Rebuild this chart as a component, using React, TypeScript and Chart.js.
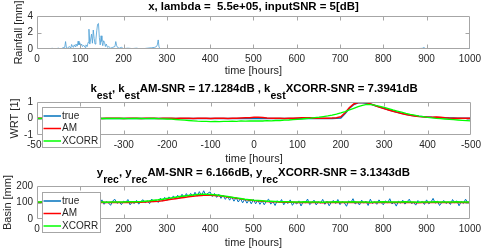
import React, { useEffect, useRef } from 'react';
import { Chart, registerables } from 'chart.js';
Chart.register(...registerables);

const FONT = '"Liberation Sans", Arial, Helvetica, sans-serif';
const TEXT = '#262626';
const AXIS = '#a6a6a6';
const C_TRUE = '#0072BD';
const C_AM = '#FF0000';
const C_XCORR = '#00FF00';

// ---------- Panel 1: rainfall ----------
const RAIN_HOURS = [0, 30, 35, 38, 45, 50, 55, 60, 64, 66, 68, 70, 75, 78, 80, 82, 84, 86, 88, 90, 93, 95, 97, 99, 101, 103, 105, 108, 111, 113, 116, 118, 120, 122, 124, 126, 128, 130, 132, 134, 136, 138, 140, 142, 144, 146, 148, 150, 152, 154, 156, 158, 160, 163, 166, 170, 175, 180, 182, 184, 186, 190, 195, 200, 210, 220, 230, 240, 255, 265, 272, 276, 278, 280, 282, 285, 300, 330, 420, 500, 600, 700, 800, 860, 870, 880, 890, 894, 897, 905, 920, 940, 960, 980, 1000];
const RAIN_MM = [0, 0, 0.1, 0, 0.05, 0.1, 0, 0.15, 0.2, 0.9, 0.15, 0.1, 0.3, 0.1, 0.55, 0.3, 0.2, 0.5, 0.3, 0.6, 0.35, 0.95, 0.5, 0.75, 0.4, 0.6, 0.3, 0.45, 0.2, 0.5, 0.3, 0.8, 2.4, 0.6, 1.2, 1.8, 0.7, 2.3, 1.3, 0.6, 1.1, 2.2, 3.0, 3.1, 1.4, 0.5, 1.6, 0.9, 0.4, 1.0, 0.8, 0.3, 0.6, 0.2, 0.3, 0.1, 0.2, 0.3, 0.9, 0.4, 0.2, 0.1, 0.2, 0.05, 0.1, 0.05, 0.1, 0, 0.1, 0.15, 0.2, 0.3, 0.5, 1.1, 0.2, 0.05, 0, 0.03, 0, 0, 0, 0, 0, 0.01, 0.03, 0.05, 0.08, 0.18, 0.05, 0.03, 0.06, 0.03, 0.05, 0.03, 0.06];

// ---------- Panel 2: WRT (lag axis -500..500, step 10) ----------
const MID_LAG_START = -500;
const MID_LAG_STEP = 10;
const MID_TICK_LABELS = ['-500', '-400', '-300', '-200', '-100', '0', '100', '200', '300', '400', '-500'];
const MID_TRUE = [
  0, 0, 0, 0, 0, 0, 0, 0, 0, 0,
  0, 0, 0, 0, 0, 0, 0, 0, 0, 0,
  0, 0, 0, 0, 0, 0, 0, 0, 0, 0,
  0, 0, 0, 0, 0, 0, 0, 0, 0, 0,
  0, 0, 0, 0, 0, 0, 0, 0, 0, 0,
  0, 0, 0, 0, 0, 0, 0, 0, 0, 0,
  0, 0, 0, 0, 0, 0, 0, 0, 0, 0.01,
  0.03, 0.3, 0.62, 0.85, 0.95, 0.96, 0.93, 0.86, 0.77, 0.69,
  0.61, 0.53, 0.46, 0.38, 0.31, 0.25, 0.2, 0.16, 0.13, 0.11,
  0.09, 0.07, 0.06, 0.05, 0.04, 0.03, 0.03, 0.02, 0.02, 0.01,
  0.01,
];
const MID_AM = [
  0.01, 0.02, 0.01, 0, 0.01, 0.02, 0.01, 0, 0.01, 0.02,
  0.01, 0, 0.01, 0.02, 0.01, 0, 0.01, 0.01, 0.02, 0.01,
  0, 0.01, 0.02, 0.01, 0, 0.01, 0.02, 0.01, 0, 0.01,
  0.02, 0.01, 0, 0.01, 0.02, 0.01, 0, 0.01, 0.02, 0.01,
  0, 0.01, 0.02, 0.01, 0, 0.01, 0.02, 0.03, 0.04, 0.05,
  0.07, 0.08, 0.06, 0.03, 0.01, 0.02, 0.01, 0, 0.01, 0.02,
  0.03, 0.04, 0.05, 0.04, 0.02, 0.01, 0.01, 0.02, 0.03, 0.05,
  0.1, 0.35, 0.66, 0.88, 0.97, 0.99, 0.95, 0.87, 0.77, 0.68,
  0.6, 0.52, 0.44, 0.37, 0.3, 0.24, 0.19, 0.15, 0.12, 0.1,
  0.08, 0.07, 0.09, 0.08, 0.05, 0.03, 0.02, 0.02, 0.01, 0.01,
  0.01,
];
const MID_XCORR = [
  0, 0.01, 0, -0.01, 0, 0.01, 0, 0, -0.01, 0,
  0, 0.01, 0, 0, -0.01, 0, 0.01, 0, 0, 0,
  0, -0.01, 0, 0.01, 0, -0.01, 0, 0, -0.01, -0.02,
  -0.03, -0.04, -0.06, -0.08, -0.1, -0.12, -0.14, -0.16, -0.17, -0.18,
  -0.19, -0.18, -0.19, -0.17, -0.18, -0.16, -0.17, -0.15, -0.16, -0.15,
  -0.15, -0.14, -0.15, -0.13, -0.14, -0.12, -0.12, -0.1, -0.09, -0.07,
  -0.05, -0.03, 0, 0.02, 0.05, 0.08, 0.12, 0.16, 0.21, 0.27,
  0.34, 0.42, 0.52, 0.62, 0.72, 0.8, 0.85, 0.84, 0.8, 0.74,
  0.67, 0.6, 0.52, 0.45, 0.38, 0.31, 0.25, 0.2, 0.15, 0.11,
  0.07, 0.04, 0.01, -0.01, -0.03, -0.05, -0.07, -0.09, -0.11, -0.13,
  -0.15,
];

// ---------- Panel 3: basin ----------
const BASIN_TRUE_STEP = 5;
const BASIN_TRUE = [
  112, 94, 106, 85, 101, 116, 90, 104, 97, 120,
  88, 103, 114, 92, 100, 82, 110, 96, 118, 102,
  86, 108, 98, 122, 91, 102, 78, 112, 100, 94,
  116, 89, 106, 98, 83, 110, 119, 95, 104, 87,
  108, 100, 118, 86, 102, 94, 113, 90, 106, 117,
  98, 110, 93, 121, 104, 114, 100, 126, 108, 131,
  112, 134, 118, 140, 121, 144, 125, 150, 128, 154,
  133, 155, 136, 162, 138, 166, 141, 171, 144, 157,
  164, 136, 155, 131, 150, 125, 143, 119, 139, 114,
  133, 108, 130, 103, 124, 98, 121, 96, 117, 92,
  118, 92, 114, 89, 110, 86, 108, 120, 90, 106,
  82, 111, 97, 118, 86, 104, 94, 116, 83, 102,
  91, 110, 79, 106, 97, 121, 87, 100, 114, 85,
  104, 96, 119, 89, 108, 80, 102, 112, 94, 118,
  87, 106, 98, 77, 110, 100, 123, 91, 102, 85,
  114, 96, 108, 82, 120, 94, 104, 89, 116, 100,
  86, 110, 98, 123, 91, 102, 78, 108, 96, 114,
  90, 104, 120, 94, 100, 84, 112, 98, 106, 88,
  116, 92, 102, 125, 96, 108, 82, 100, 112, 94,
  104, 88, 118, 98, 110, 80, 106, 94, 120, 100,
  96,
];
const BASIN_REC_STEP = 10;
const BASIN_AM = [
  100, 101, 100, 99, 100, 101, 100, 100, 99, 100,
  101, 100, 100, 99, 100, 101, 100, 100, 101, 100,
  100, 101, 100, 101, 102, 103, 104, 106, 108, 111,
  115, 119, 123, 127, 131, 135, 138, 141, 143, 145,
  144, 143, 141, 138, 134, 130, 126, 122, 118, 115,
  112, 110, 108, 106, 105, 104, 103, 102, 101, 101,
  100, 100, 101, 100, 100, 100, 99, 100, 100, 101,
  100, 100, 100, 101, 100, 100, 100, 99, 100, 100,
  101, 100, 100, 100, 100, 101, 100, 100, 99, 100,
  100, 100, 101, 100, 100, 100, 100, 101, 100, 100,
  100,
];
const BASIN_XCORR = [
  103, 103, 102, 103, 103, 102, 103, 103, 102, 103,
  103, 103, 102, 103, 103, 103, 102, 103, 103, 103,
  103, 104, 104, 105, 106, 108, 110, 113, 116, 120,
  124, 128, 132, 136, 140, 143, 146, 148, 150, 150,
  149, 147, 144, 140, 136, 132, 128, 124, 120, 117,
  114, 112, 110, 108, 107, 106, 105, 104, 104, 103,
  103, 103, 104, 103, 103, 103, 102, 103, 103, 104,
  103, 103, 103, 104, 103, 103, 103, 102, 103, 103,
  104, 103, 103, 103, 103, 104, 103, 103, 102, 103,
  103, 103, 104, 103, 103, 103, 103, 104, 103, 103,
  103,
];

const LEGEND_LABELS = ['true', 'AM', 'XCORR'];
const LEGEND_COLORS = [C_TRUE, C_AM, C_XCORR];

type Seg = { t: string; sub?: boolean };

const toXY = (xs: number[], ys: number[]) => ys.map((y, i) => ({ x: xs[i], y }));
const stepXY = (start: number, step: number, ys: number[]) => ys.map((y, i) => ({ x: start + i * step, y }));

type PanelCfg = {
  top: number;
  height: number;
  plotTop: number;
  plotBottom: number;
  xMin: number; xMax: number; xStep: number;
  yMin: number; yMax: number; yStep: number;
  xTickLabels?: string[];
  datasets: any[];
  title: Seg[];
  titleBase: number;
  xlabel: string;
  xlabelBase: number;
  ylabel: string;
  ylabelBase: number;
  legendTop?: number;
};

function Panel({ cfg }: { cfg: PanelCfg }) {
  const ref = useRef<HTMLCanvasElement>(null);
  useEffect(() => {
    if (!ref.current) return;
    const deco = {
      id: 'deco',
      afterDatasetsDraw(chart: any) {
        const { ctx, chartArea: a, scales } = chart;
        const L = Math.round(a.left) + 0.5;
        const T = Math.round(a.top) + 0.5;
        const R = Math.round(a.right) - 0.5;
        const B = Math.round(a.bottom) - 0.5;
        ctx.save();
        ctx.strokeStyle = AXIS;
        ctx.lineWidth = 1;
        ctx.beginPath();
        ctx.rect(L, T, R - L, B - T);
        const tl = 4;
        scales.x.ticks.forEach((t: any, i: number) => {
          if (i === 0 || i === scales.x.ticks.length - 1) return;
          const px = Math.round(scales.x.getPixelForValue(t.value)) + 0.5;
          ctx.moveTo(px, B); ctx.lineTo(px, B - tl);
          ctx.moveTo(px, T); ctx.lineTo(px, T + tl);
        });
        scales.y.ticks.forEach((t: any, i: number) => {
          if (i === 0 || i === scales.y.ticks.length - 1) return;
          const py = Math.round(scales.y.getPixelForValue(t.value)) + 0.5;
          ctx.moveTo(L, py); ctx.lineTo(L + tl, py);
          ctx.moveTo(R, py); ctx.lineTo(R - tl, py);
        });
        ctx.stroke();
        ctx.restore();
      },
      afterDraw(chart: any) {
        const { ctx, chartArea: a } = chart;
        const cx = (a.left + a.right) / 2;
        ctx.save();
        ctx.fillStyle = '#000';
        // title with subscripts
        const mainFont = `bold 11.4px ${FONT}`;
        const subFont = `bold 10.5px ${FONT}`;
        let total = 0;
        cfg.title.forEach((s) => {
          ctx.font = s.sub ? subFont : mainFont;
          total += ctx.measureText(s.t).width;
        });
        let x = cx - total / 2;
        ctx.textAlign = 'left';
        ctx.textBaseline = 'alphabetic';
        cfg.title.forEach((s) => {
          ctx.font = s.sub ? subFont : mainFont;
          ctx.fillText(s.t, x, s.sub ? cfg.titleBase + 6.5 : cfg.titleBase);
          x += ctx.measureText(s.t).width;
        });
        // axis labels
        ctx.fillStyle = TEXT;
        ctx.font = `11px ${FONT}`;
        ctx.textAlign = 'center';
        ctx.fillText(cfg.xlabel, cx, cfg.xlabelBase);
        ctx.save();
        ctx.translate(cfg.ylabelBase, (a.top + a.bottom) / 2);
        ctx.rotate(-Math.PI / 2);
        ctx.fillText(cfg.ylabel, 0, 0);
        ctx.restore();
        // legend
        if (cfg.legendTop !== undefined) {
          const lx = 42.5;
          const ly = cfg.legendTop + 0.5;
          ctx.fillStyle = '#fff';
          ctx.strokeStyle = AXIS;
          ctx.lineWidth = 1;
          ctx.fillRect(lx, ly, 58, 40);
          ctx.strokeRect(lx, ly, 58, 40);
          ctx.font = `10px ${FONT}`;
          ctx.textAlign = 'left';
          ctx.textBaseline = 'middle';
          LEGEND_LABELS.forEach((lab, i) => {
            const yy = cfg.legendTop! + 9 + i * 12.5;
            ctx.strokeStyle = LEGEND_COLORS[i];
            ctx.lineWidth = 1.5;
            ctx.beginPath();
            ctx.moveTo(43.5, yy);
            ctx.lineTo(61, yy);
            ctx.stroke();
            ctx.fillStyle = TEXT;
            ctx.fillText(lab, 62, yy);
          });
        }
        ctx.restore();
      },
    };
    const xAxisH = cfg.height - cfg.plotBottom;
    const chart = new Chart(ref.current, {
      type: 'line',
      data: { datasets: cfg.datasets },
      options: {
        responsive: false,
        animation: false,
        events: [],
        layout: { padding: { left: 0, right: 12, top: cfg.plotTop, bottom: 0 } },
        plugins: { legend: { display: false }, title: { display: false }, tooltip: { enabled: false } },
        elements: { point: { radius: 0 }, line: { tension: 0 } },
        scales: {
          x: {
            type: 'linear',
            min: cfg.xMin,
            max: cfg.xMax,
            grid: { display: false, drawTicks: false },
            border: { display: false },
            ticks: {
              stepSize: cfg.xStep,
              autoSkip: false,
              maxRotation: 0,
              padding: 4,
              color: TEXT,
              font: { size: 10, family: FONT },
              callback: (v: any, i: number) => (cfg.xTickLabels ? cfg.xTickLabels[i] : String(v)),
            },
            afterFit: (s: any) => { s.height = xAxisH; },
          },
          y: {
            type: 'linear',
            min: cfg.yMin,
            max: cfg.yMax,
            grid: { display: false, drawTicks: false },
            border: { display: false },
            ticks: {
              stepSize: cfg.yStep,
              padding: 4,
              color: TEXT,
              font: { size: 10, family: FONT },
            },
            afterFit: (s: any) => { s.width = 37; },
          },
        },
      } as any,
      plugins: [deco],
    });
    return () => chart.destroy();
  }, [cfg]);
  return (
    <canvas
      ref={ref}
      width={485}
      height={cfg.height}
      style={{ position: 'absolute', left: 0, top: cfg.top, width: 485, height: cfg.height, display: 'block' }}
    />
  );
}

const line = (label: string, data: any[], color: string, width: number, order: number) => ({
  label, data, borderColor: color, backgroundColor: color, borderWidth: width, pointRadius: 0, fill: false, order,
});

const PANELS: PanelCfg[] = [
  {
    top: 0, height: 80, plotTop: 16, plotBottom: 49,
    xMin: 0, xMax: 1000, xStep: 100, yMin: 0, yMax: 4, yStep: 2,
    datasets: [line('rain', toXY(RAIN_HOURS, RAIN_MM), '#4a9ed6', 0.8, 1)],
    title: [{ t: 'x, lambda =  5.5e+05, inputSNR = 5[dB]' }],
    titleBase: 10,
    xlabel: 'time [hours]', xlabelBase: 74,
    ylabel: 'Rainfall [mm]', ylabelBase: 22,
  },
  {
    top: 80, height: 84, plotTop: 22, plotBottom: 55,
    xMin: -500, xMax: 500, xStep: 100, yMin: -1, yMax: 1, yStep: 1,
    xTickLabels: MID_TICK_LABELS,
    datasets: [
      line('true', stepXY(MID_LAG_START, MID_LAG_STEP, MID_TRUE), C_TRUE, 1.5, 3),
      line('AM', stepXY(MID_LAG_START, MID_LAG_STEP, MID_AM), C_AM, 1.5, 2),
      line('XCORR', stepXY(MID_LAG_START, MID_LAG_STEP, MID_XCORR), C_XCORR, 1.3, 1),
    ],
    title: [
      { t: 'k' }, { t: 'est', sub: true }, { t: ', k' }, { t: 'est', sub: true },
      { t: 'AM-SNR = 17.1284dB , k' }, { t: 'est', sub: true }, { t: 'XCORR-SNR = 7.3941dB' },
    ],
    titleBase: 12,
    xlabel: 'time [hours]', xlabelBase: 82,
    ylabel: 'WRT [1]', ylabelBase: 17.5,
    legendTop: 27,
  },
  {
    top: 164, height: 85, plotTop: 22, plotBottom: 55,
    xMin: 0, xMax: 1000, xStep: 100, yMin: 0, yMax: 200, yStep: 100,
    datasets: [
      line('true', stepXY(0, BASIN_TRUE_STEP, BASIN_TRUE), C_TRUE, 1, 3),
      line('AM', stepXY(0, BASIN_REC_STEP, BASIN_AM), C_AM, 1.5, 2),
      line('XCORR', stepXY(0, BASIN_REC_STEP, BASIN_XCORR), C_XCORR, 1.5, 1),
    ],
    title: [
      { t: 'y' }, { t: 'rec', sub: true }, { t: ', y' }, { t: 'rec', sub: true },
      { t: 'AM-SNR = 6.166dB, y' }, { t: 'rec', sub: true }, { t: 'XCORR-SNR = 3.1343dB' },
    ],
    titleBase: 12,
    xlabel: 'time [hours]', xlabelBase: 82,
    ylabel: 'Basin [mm]', ylabelBase: 10.5,
    legendTop: 28,
  },
];

export default function App() {
  return (
    <div style={{ position: 'absolute', left: 0, top: 0, width: 485, height: 249, background: '#fff', overflow: 'hidden' }}>
      {PANELS.map((p, i) => (
        <Panel key={i} cfg={p} />
      ))}
    </div>
  );
}
